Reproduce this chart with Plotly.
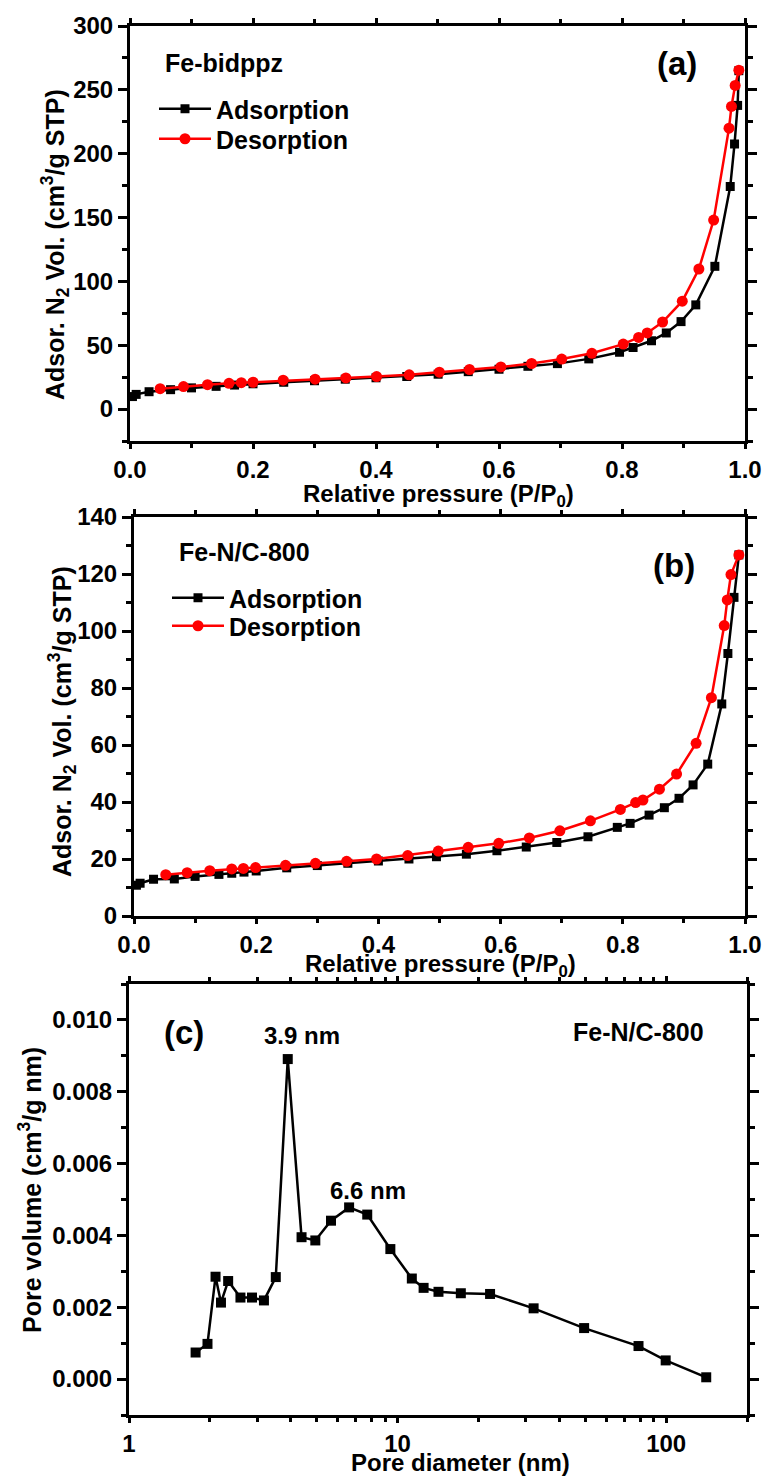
import math
import plotly.graph_objects as go

W, H = 767, 1476

# ---- (a) Fe-bidppz: N2 isotherm ----
a_ads_p = [0.004, 0.010, 0.031, 0.066, 0.100, 0.140, 0.170, 0.200, 0.250, 0.300,
           0.350, 0.400, 0.450, 0.501, 0.550, 0.600, 0.647, 0.695, 0.746, 0.796,
           0.818, 0.848, 0.872, 0.896, 0.920, 0.951, 0.976, 0.983, 0.988, 0.990]
a_ads_v = [9.8, 11.5, 13.6, 15.2, 16.6, 17.8, 18.8, 19.8, 21.0, 22.2,
           23.4, 24.5, 25.5, 27.3, 29.3, 31.2, 33.5, 35.6, 39.3, 44.5,
           48.2, 53.5, 59.6, 68.5, 81.6, 111.8, 174.3, 207.6, 237.8, 265.0]
a_des_p = [0.990, 0.984, 0.978, 0.974, 0.949, 0.925, 0.898, 0.866, 0.841, 0.827,
           0.802, 0.751, 0.702, 0.653, 0.603, 0.552, 0.503, 0.454, 0.401, 0.351,
           0.301, 0.249, 0.200, 0.181, 0.161, 0.126, 0.087, 0.049]
a_des_v = [265.4, 253.5, 237.0, 220.0, 148.0, 109.7, 84.5, 68.2, 59.6, 56.1,
           50.9, 43.7, 39.2, 35.7, 33.0, 31.0, 28.9, 26.8, 25.5, 24.4,
           23.4, 22.6, 21.0, 20.7, 20.2, 19.1, 17.6, 16.0]

# ---- (b) Fe-N/C-800: N2 isotherm ----
b_ads_p = [0.004, 0.010, 0.032, 0.066, 0.100, 0.139, 0.160, 0.180, 0.200, 0.250,
           0.300, 0.350, 0.400, 0.450, 0.495, 0.544, 0.594, 0.642, 0.692, 0.743,
           0.791, 0.812, 0.843, 0.868, 0.892, 0.915, 0.939, 0.962, 0.972, 0.982, 0.990]
b_ads_v = [10.8, 11.5, 12.9, 13.0, 13.9, 14.6, 15.0, 15.4, 15.8, 16.9,
           17.7, 18.5, 19.3, 20.0, 20.8, 21.7, 22.9, 24.2, 25.8, 27.8,
           31.1, 32.5, 35.4, 38.0, 41.3, 46.0, 53.3, 74.4, 92.1, 111.8, 126.7]
b_des_p = [0.990, 0.977, 0.971, 0.966, 0.945, 0.920, 0.888, 0.860, 0.833, 0.821,
           0.796, 0.747, 0.697, 0.647, 0.597, 0.547, 0.498, 0.448, 0.397, 0.348,
           0.297, 0.248, 0.199, 0.179, 0.160, 0.124, 0.087, 0.052]
b_des_v = [126.7, 119.8, 110.9, 101.9, 76.6, 60.6, 49.8, 44.5, 40.7, 39.8,
           37.4, 33.4, 29.9, 27.4, 25.5, 24.1, 22.8, 21.2, 20.0, 19.2,
           18.5, 17.8, 17.0, 16.7, 16.5, 15.9, 15.2, 14.5]

# ---- (c) Fe-N/C-800: pore size distribution ----
c_diam = [1.77, 1.96, 2.10, 2.20, 2.34, 2.60, 2.87, 3.18, 3.52, 3.90,
          4.39, 4.94, 5.65, 6.60, 7.71, 9.40, 11.3, 12.5, 14.2, 17.2,
          22.1, 32.1, 49.5, 78.9, 99.6, 141.0]
c_vol = [0.00074, 0.00098, 0.00285, 0.00213, 0.00273, 0.00227, 0.00227, 0.00219, 0.00284, 0.00891,
         0.00395, 0.00386, 0.00441, 0.00478, 0.00458, 0.00362, 0.00280, 0.00254, 0.00243, 0.00239,
         0.00237, 0.00197, 0.00142, 0.00092, 0.00052, 0.00005]
c_peaks = [(3.90, "3.9 nm", 14, 24), (6.60, "6.6 nm", 19, 17)]

FONT = "Liberation Sans, Arial, sans-serif"
BLACK = "#000000"
RED = "#FF0000"


def fx(px):
    return px / W


def fy(py):
    return 1 - py / H


def bold(size):
    return dict(family=FONT, size=size, color=BLACK, weight="bold")


fig = go.Figure()

# isotherm traces, one legend box per entry so each row sits where it should
for p, v, name, color, sym, size, xa, ya, lg in [
    (a_ads_p, a_ads_v, "Adsorption", BLACK, "square", 9, "x", "y", "legend"),
    (a_des_p, a_des_v, "Desorption", RED, "circle", 11, "x", "y", "legend2"),
    (b_ads_p, b_ads_v, "Adsorption", BLACK, "square", 9, "x2", "y2", "legend3"),
    (b_des_p, b_des_v, "Desorption", RED, "circle", 11, "x2", "y2", "legend4"),
]:
    fig.add_trace(go.Scatter(
        x=p, y=v, name=name, mode="lines+markers", xaxis=xa, yaxis=ya, legend=lg,
        line=dict(color=color, width=2.5),
        marker=dict(symbol=sym, size=size, color=color, line=dict(width=0)),
    ))

# pore size distribution
fig.add_trace(go.Scatter(
    x=c_diam, y=c_vol, mode="lines+markers", xaxis="x3", yaxis="y3", showlegend=False,
    line=dict(color=BLACK, width=2.5),
    marker=dict(symbol="square", size=10, color=BLACK, line=dict(width=0)),
))

axis_common = dict(
    showline=True, linewidth=3, linecolor=BLACK, mirror="ticks",
    ticks="outside", tickwidth=2.5, tickcolor=BLACK,
    showgrid=False, zeroline=False, tickfont=bold(24), automargin=False,
)
x_extra = dict(ticklen=5)
y_extra = dict(ticklen=9)
minor_common = dict(ticks="outside", ticklen=5, tickwidth=2.5, tickcolor=BLACK, showgrid=False)
x_minor = dict(minor_common, ticklen=4)


def legend_box(x, y):
    return dict(x=fx(x), y=fy(y), xanchor="left", yanchor="middle",
                bgcolor="rgba(0,0,0,0)", font=bold(25), itemwidth=52, tracegroupgap=0)


fig.update_layout(
    width=W, height=H, autosize=False,
    margin=dict(l=0, r=0, t=0, b=0, pad=0, autoexpand=False),
    paper_bgcolor="white", plot_bgcolor="white",
    showlegend=True,
    xaxis=dict(domain=[fx(130), fx(745)], anchor="y", range=[0, 1], tick0=0, dtick=0.2,
               tickformat=".1f", minor=dict(dtick=0.1, **x_minor), **axis_common, **x_extra),
    yaxis=dict(domain=[fy(441), fy(26)], anchor="x", range=[-25, 300], tick0=0, dtick=50,
               minor=dict(dtick=25, **minor_common), **axis_common, **y_extra),
    xaxis2=dict(domain=[fx(134), fx(745)], anchor="y2", range=[0, 1], tick0=0, dtick=0.2,
                tickformat=".1f", minor=dict(dtick=0.1, **x_minor), **axis_common, **x_extra),
    yaxis2=dict(domain=[fy(916), fy(517)], anchor="x2", range=[0, 140], tick0=0, dtick=20,
                minor=dict(dtick=10, **minor_common), **axis_common, **y_extra),
    xaxis3=dict(domain=[fx(129), fx(747)], anchor="y3", type="log", range=[0, math.log10(200)],
                dtick=1, minor=dict(dtick="D1", **x_minor), **axis_common, **x_extra),
    yaxis3=dict(domain=[fy(1415), fy(984)], anchor="x3", range=[-0.001, 0.011], tick0=0,
                dtick=0.002, tickformat=".3f", minor=dict(dtick=0.001, **minor_common),
                **axis_common, **y_extra),
    legend=legend_box(154, 109),
    legend2=legend_box(154, 139),
    legend3=legend_box(167, 598),
    legend4=legend_box(167, 626),
)

annotations = []


def label(text, x, y, size=25, xanchor="center"):
    annotations.append(dict(text=text, x=fx(x), y=fy(y), xref="paper", yref="paper",
                            xanchor=xanchor, yanchor="middle", showarrow=False, font=bold(size)))


def vlabel(text, x, y, size=25):
    annotations.append(dict(text=text, x=fx(x), y=fy(y), xref="paper", yref="paper",
                            xanchor="center", yanchor="middle", textangle=-90,
                            showarrow=False, font=bold(size)))


# panel tags and sample names
label("Fe-bidppz", 163, 63, xanchor="left")
label("(a)", 677, 63, size=33)
label("Fe-N/C-800", 177, 552, xanchor="left")
label("(b)", 674, 566, size=33)
label("(c)", 184, 1032, size=33)
label("Fe-N/C-800", 638, 1032)

# axis titles
label("Relative pressure (P/P<sub>0</sub>)", 438, 495, size=24)
label("Relative pressure (P/P<sub>0</sub>)", 440, 965, size=24)
label("Pore diameter (nm)", 460, 1462, size=24)
vlabel("Adsor. N<sub>2</sub> Vol. (cm<sup>3</sup>/g STP)", 55, 245)
vlabel("Adsor. N<sub>2</sub> Vol. (cm<sup>3</sup>/g STP)", 62, 722)
vlabel("Pore volume (cm<sup>3</sup>/g nm)", 30, 1190)

# peak labels in (c)
for d, txt, dx, dy in c_peaks:
    v = c_vol[c_diam.index(d)]
    annotations.append(dict(text=txt, x=math.log10(d), y=v, xref="x3", yref="y3",
                            xanchor="center", yanchor="middle", xshift=dx, yshift=dy,
                            showarrow=False, font=bold(24)))

fig.update_layout(annotations=annotations)

fig.write_html("out.html")
